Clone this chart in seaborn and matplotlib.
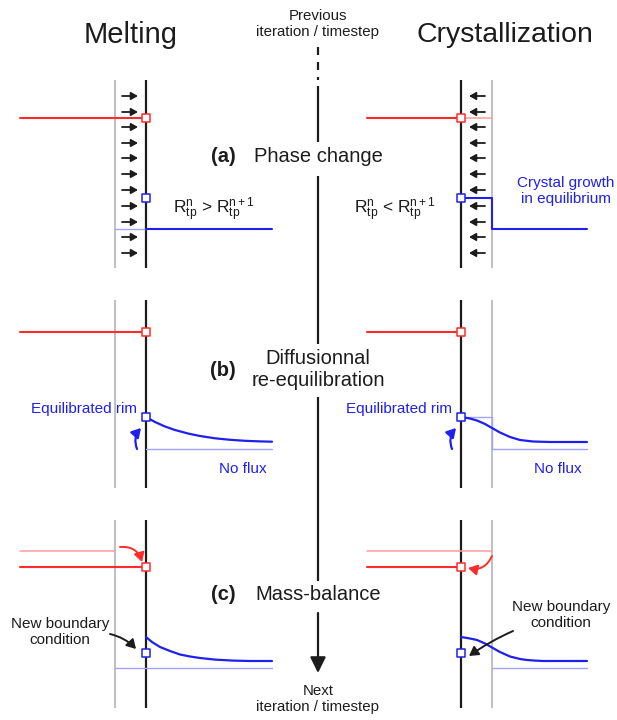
import matplotlib
matplotlib.use("Agg")
import matplotlib.pyplot as plt
import seaborn as sns
import pandas as pd

sns.set_theme(style="white")
plt.rcParams["font.family"] = ["Liberation Sans", "DejaVu Sans"]
plt.rcParams["mathtext.fontset"] = "custom"
plt.rcParams["mathtext.rm"] = "Liberation Sans"
plt.rcParams["mathtext.it"] = "Liberation Sans"
plt.rcParams["mathtext.bf"] = "Liberation Sans:bold"

# ---- text content ----
column_titles = ["Melting", "Crystallization"]
step_letters = ["(a)", "(b)", "(c)"]
step_names = ["Phase change", "Diffusionnal\nre-equilibration", "Mass-balance"]
flow_top = "Previous\niteration / timestep"
flow_bottom = "Next\niteration / timestep"

# ---- concentration profiles (diagram units) ----
melt_b_x = [146, 155, 165, 175, 188, 200, 215, 230, 245, 260, 272]
melt_b_y = [417, 422, 426.5, 430, 433.5, 436, 438.3, 439.8, 440.8, 441.4, 441.7]
cryst_b_x = [461, 470, 477, 485, 492, 500, 510, 520, 533, 550, 587]
cryst_b_y = [417, 418.5, 420.5, 424, 428, 432.5, 437, 440, 441.5, 442, 442]
melt_c_x = [146, 152, 160, 170, 180, 190, 200, 215, 233, 250, 272]
melt_c_y = [637, 642, 647, 651, 654.5, 656.5, 658, 659.6, 660.6, 661, 661]
cryst_c_x = [461, 470, 477, 485, 492, 500, 510, 520, 527, 535, 543, 560, 587]
cryst_c_y = [637, 638.5, 640, 643.5, 647.5, 652, 656.5, 659, 660, 660.6, 661, 661, 661]

# crystal-growth step profile in (a)
growth_x = [461, 492, 492, 587]
growth_y = [198, 198, 229, 229]

# interface markers (x, y) for melt (red) and crystal (blue) sides
red_marks_x = [146, 461, 146, 461, 146, 461]
red_marks_y = [118, 118, 332, 332, 567, 567]
blue_marks_x = [146, 461, 146, 461, 146, 461]
blue_marks_y = [198, 198, 417, 417, 653, 653]

# flux arrows rows in (a)
flux_rows = [96, 112, 127, 143, 158, 174, 190, 206, 222, 237, 253]

RED = "#ff2b2b"
LRED = "#ff9c9c"
BLUE = "#1f1fee"
LBLUE = "#a3a3ff"
GREY = "#adadad"
INK = "#1c1c1c"

fig = plt.figure(figsize=(6.17, 7.2), dpi=100)
ax = fig.add_axes([0, 0, 1, 1])
ax.set_xlim(0, 617)
ax.set_ylim(720, 0)
ax.axis("off")

# ---- column titles ----
ax.text(131, 35, column_titles[0], fontsize=21, ha="center", va="center", color=INK)
ax.text(505, 35, column_titles[1], fontsize=20.5, ha="center", va="center", color=INK)

# ---- central flow line ----
ax.text(318, 24, flow_top, fontsize=10.8, ha="center", va="center",
        color=INK, linespacing=1.25)
for y0, y1 in [(47, 55), (62, 70), (77, 80)]:
    ax.plot([318, 318], [y0, y1], color=INK, lw=1.6, solid_capstyle="butt")
for y0, y1 in [(86, 142), (176, 344), (397, 581)]:
    ax.plot([318, 318], [y0, y1], color=INK, lw=1.6, solid_capstyle="butt")
ax.annotate("", xy=(318, 673), xytext=(318, 613),
            arrowprops=dict(arrowstyle="-|>,head_length=0.95,head_width=0.47",
                            color=INK, lw=1.6, mutation_scale=10,
                            shrinkA=0, shrinkB=0))
ax.text(318, 699, flow_bottom, fontsize=10.8, ha="center", va="center",
        color=INK, linespacing=1.25)

# step labels
step_y = [157, 370, 595]
for letter, name, y in zip(step_letters, step_names, step_y):
    ax.text(223, y, letter, fontsize=14.5, fontweight="bold", ha="center",
            va="center", color=INK)
    ax.text(318, y, name, fontsize=14.5, ha="center", va="center", color=INK,
            linespacing=1.2)

# ---- interfaces ----
panel_spans = [(80, 268), (300, 488), (520, 708)]
for y0, y1 in panel_spans:
    for xg in (115, 492):
        ax.plot([xg, xg], [y0, y1], color=GREY, lw=1.1, solid_capstyle="butt")
    for xb in (146, 461):
        ax.plot([xb, xb], [y0, y1], color=INK, lw=1.6, solid_capstyle="butt")

# ---- flat concentration levels ----
# (a)
ax.plot([20, 146], [118, 118], color=RED, lw=1.5)
ax.plot([367, 461], [118, 118], color=RED, lw=1.5)
ax.plot([461, 492], [118, 118], color=LRED, lw=1.1)
ax.plot([115, 146], [229, 229], color=LBLUE, lw=1.0)
ax.plot([146, 272], [229, 229], color=BLUE, lw=1.5)
sns.lineplot(data=pd.DataFrame({"x": growth_x, "y": growth_y}), x="x", y="y",
             sort=False, estimator=None, color=BLUE, lw=1.5, ax=ax)
# (b)
ax.plot([20, 146], [332, 332], color=RED, lw=1.5)
ax.plot([367, 461], [332, 332], color=RED, lw=1.5)
ax.plot([146, 272], [449, 449], color=LBLUE, lw=1.0)
ax.plot([461, 492], [417, 417], color=LBLUE, lw=1.0)
ax.plot([492, 492], [417, 449], color=LBLUE, lw=1.0)
ax.plot([492, 587], [449, 449], color=LBLUE, lw=1.0)
# (c)
ax.plot([20, 115], [551, 551], color=LRED, lw=1.1)
ax.plot([20, 146], [567, 567], color=RED, lw=1.5)
ax.plot([367, 492], [551, 551], color=LRED, lw=1.1)
ax.plot([367, 461], [567, 567], color=RED, lw=1.5)
ax.plot([115, 272], [668, 668], color=LBLUE, lw=1.0)
ax.plot([492, 587], [668, 668], color=LBLUE, lw=1.0)

# ---- diffusion profiles ----
for px, py in [(melt_b_x, melt_b_y), (cryst_b_x, cryst_b_y),
               (melt_c_x, melt_c_y), (cryst_c_x, cryst_c_y)]:
    sns.lineplot(data=pd.DataFrame({"x": px, "y": py}), x="x", y="y",
                 sort=False, estimator=None, color=BLUE, lw=1.6, ax=ax)

# ---- interface markers ----
sns.scatterplot(x=red_marks_x, y=red_marks_y, marker="s", s=38,
                facecolor="white", edgecolor=RED, linewidth=1.1, ax=ax, zorder=5)
sns.scatterplot(x=blue_marks_x, y=blue_marks_y, marker="s", s=38,
                facecolor="white", edgecolor=BLUE, linewidth=1.1, ax=ax, zorder=5)

# ---- flux arrows in (a) ----
for y in flux_rows:
    ax.annotate("", xy=(138, y), xytext=(122, y),
                arrowprops=dict(arrowstyle="-|>,head_length=0.5,head_width=0.28",
                                color=INK, lw=1.3, mutation_scale=8,
                                shrinkA=0, shrinkB=0))
    ax.annotate("", xy=(469, y), xytext=(485, y),
                arrowprops=dict(arrowstyle="-|>,head_length=0.5,head_width=0.28",
                                color=INK, lw=1.3, mutation_scale=8,
                                shrinkA=0, shrinkB=0))

# ---- radius comparison ----
ax.text(214, 210, r"$\mathrm{R}_{tp}^{n}$ > $\mathrm{R}_{tp}^{n+1}$", fontsize=12.5,
        ha="center", va="center", color=INK)
ax.text(395, 210, r"$\mathrm{R}_{tp}^{n}$ < $\mathrm{R}_{tp}^{n+1}$", fontsize=12.5,
        ha="center", va="center", color=INK)
ax.text(566, 191, "Crystal growth\nin equilibrium", fontsize=11, ha="center",
        va="center", color=BLUE, linespacing=1.2)

# ---- (b) annotations ----
ax.text(137, 409, "Equilibrated rim", fontsize=11, ha="right", va="center", color=BLUE)
ax.text(452, 409, "Equilibrated rim", fontsize=11, ha="right", va="center", color=BLUE)
ax.text(243, 469, "No flux", fontsize=11, ha="center", va="center", color=BLUE)
ax.text(558, 469, "No flux", fontsize=11, ha="center", va="center", color=BLUE)
for x in (137, 452):
    ax.annotate("", xy=(x + 4, 428), xytext=(x, 449),
                arrowprops=dict(arrowstyle="-|>,head_length=0.6,head_width=0.35",
                                connectionstyle="arc3,rad=-0.3",
                                color=BLUE, lw=1.6, mutation_scale=9,
                                shrinkA=0, shrinkB=0))

# ---- (c) annotations ----
ax.annotate("", xy=(142, 562), xytext=(120, 547),
            arrowprops=dict(arrowstyle="-|>,head_length=0.6,head_width=0.35",
                            connectionstyle="arc3,rad=-0.4",
                            color=RED, lw=1.4, mutation_scale=9,
                            shrinkA=0, shrinkB=0))
ax.annotate("", xy=(468, 568), xytext=(492, 556),
            arrowprops=dict(arrowstyle="-|>,head_length=0.6,head_width=0.35",
                            connectionstyle="arc3,rad=-0.4",
                            color=RED, lw=1.4, mutation_scale=9,
                            shrinkA=0, shrinkB=0))
ax.text(60, 632, "New boundary\ncondition", fontsize=11, ha="center",
        va="center", color=INK, linespacing=1.2)
ax.text(561, 615, "New boundary\ncondition", fontsize=11, ha="center",
        va="center", color=INK, linespacing=1.2)
ax.annotate("", xy=(136, 649), xytext=(110, 634),
            arrowprops=dict(arrowstyle="-|>,head_length=0.6,head_width=0.35",
                            connectionstyle="arc3,rad=-0.15",
                            color=INK, lw=1.4, mutation_scale=9,
                            shrinkA=0, shrinkB=0))
ax.annotate("", xy=(469, 656), xytext=(513, 631),
            arrowprops=dict(arrowstyle="-|>,head_length=0.6,head_width=0.35",
                            connectionstyle="arc3,rad=0.05",
                            color=INK, lw=1.4, mutation_scale=9,
                            shrinkA=0, shrinkB=0))

fig.savefig("out.png", dpi=100)
